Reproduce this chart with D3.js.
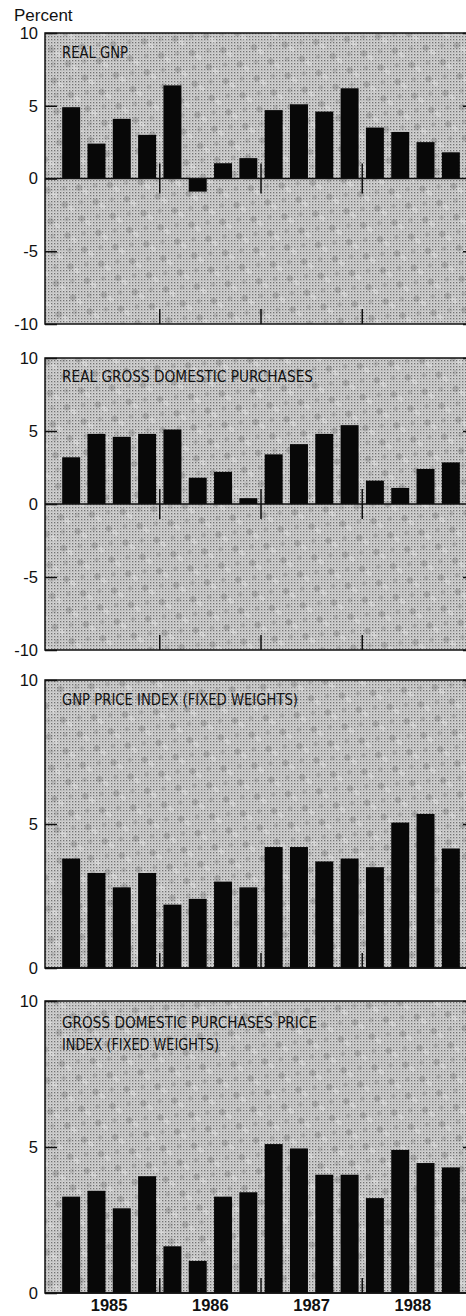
<!DOCTYPE html>
<html>
<head>
<meta charset="utf-8">
<script src="https://cdn.jsdelivr.net/npm/d3@7"></script>
<style>
  body { margin: 0; background: #fff; }
  .tick text { font-family: "Liberation Sans", Arial, sans-serif; font-size: 16.5px; fill: #111; }
  .panel-title { font-family: "Liberation Sans Narrow", "DejaVu Sans Condensed", sans-serif; font-size: 16.5px; fill: #111; }
</style>
</head>
<body>
<script>
// quarterly data, 1985 Q1 - 1988 Q4
const years = ["1985", "1986", "1987", "1988"];
const quarters = [];
years.forEach(y => [1, 2, 3, 4].forEach(q => quarters.push(y + "Q" + q)));

const realGNP = [4.9, 2.4, 4.1, 3.0, 6.4, -0.9, 1.05, 1.4, 4.7, 5.1, 4.6, 6.2, 3.5, 3.2, 2.5, 1.8];
const realGDP = [3.2, 4.8, 4.6, 4.8, 5.1, 1.8, 2.2, 0.4, 3.4, 4.1, 4.8, 5.4, 1.6, 1.1, 2.4, 2.85];
const gnpPrice = [3.8, 3.3, 2.8, 3.3, 2.2, 2.4, 3.0, 2.8, 4.2, 4.2, 3.7, 3.8, 3.5, 5.05, 5.35, 4.15];
const gdpPrice = [3.3, 3.5, 2.9, 4.0, 1.6, 1.1, 3.3, 3.45, 5.1, 4.95, 4.05, 4.05, 3.25, 4.9, 4.45, 4.3];

const titles = [
  ["REAL GNP"],
  ["REAL GROSS DOMESTIC PURCHASES"],
  ["GNP PRICE INDEX (FIXED WEIGHTS)"],
  ["GROSS DOMESTIC PURCHASES PRICE", "INDEX (FIXED WEIGHTS)"]
];
const ticksPosNeg = [-10, -5, 0, 5, 10];
const ticksPos = [0, 5, 10];

const W = 466, H = 1316;
const left = 45, right = 476;

const svg = d3.select("body").append("svg")
    .attr("width", W)
    .attr("height", H);

// halftone-ish screen: fine dot grid plus coarser mottling
const defs = svg.append("defs");
const pat = defs.append("pattern")
    .attr("id", "screen")
    .attr("width", 3).attr("height", 3)
    .attr("patternUnits", "userSpaceOnUse");
pat.append("rect").attr("width", 3).attr("height", 3).attr("fill", "#d2d2d2");
pat.append("rect").attr("x", 0).attr("y", 0).attr("width", 1.3).attr("height", 1.3).attr("fill", "#727272");
pat.append("rect").attr("x", 1.5).attr("y", 1.5).attr("width", 0.9).attr("height", 0.9).attr("fill", "#a0a0a0");

const mottle = defs.append("pattern")
    .attr("id", "mottle")
    .attr("width", 22).attr("height", 22)
    .attr("patternUnits", "userSpaceOnUse")
    .attr("patternTransform", "rotate(40)");
mottle.append("circle").attr("cx", 5).attr("cy", 5).attr("r", 3.2).attr("fill", "#555").attr("opacity", 0.25);
mottle.append("circle").attr("cx", 16).attr("cy", 15).attr("r", 2.4).attr("fill", "#666").attr("opacity", 0.2);
mottle.append("rect").attr("x", 10).attr("y", 2).attr("width", 6).attr("height", 4).attr("fill", "#fff").attr("opacity", 0.25);

const x = d3.scaleBand()
    .domain(quarters)
    .range([58.5, 463.5])
    .paddingInner(0.29)
    .paddingOuter(0.145);

const panels = [
  { data: realGNP, domain: [-10, 10], range: [324, 33], ticks: ticksPosNeg, titleY: 25, widths: [66] },
  { data: realGDP, domain: [-10, 10], range: [650, 358], ticks: ticksPosNeg, titleY: 24, widths: [251] },
  { data: gnpPrice, domain: [0, 10], range: [968, 680], ticks: ticksPos, titleY: 25, widths: [236] },
  { data: gdpPrice, domain: [0, 10], range: [1293, 1001], ticks: ticksPos, titleY: 27, widths: [255, 157] }
];

// year boundaries
const step = x.step();
const yearEdges = years.slice(1).map(yr => x(yr + "Q1") - step * 0.29 / 2);

panels.forEach((p, i) => {
  const y = d3.scaleLinear().domain(p.domain).range(p.range);
  const g = svg.append("g");
  const top = y(p.domain[1]), bottom = y(p.domain[0]), zero = y(0);

  g.append("rect")
    .attr("x", left).attr("y", top)
    .attr("width", right - left).attr("height", bottom - top)
    .attr("fill", "url(#screen)");
  g.append("rect")
    .attr("x", left).attr("y", top)
    .attr("width", right - left).attr("height", bottom - top)
    .attr("fill", "url(#mottle)");

  g.selectAll(".bar")
    .data(p.data)
    .join("rect")
    .attr("class", "bar")
    .attr("x", (d, j) => x(quarters[j]))
    .attr("width", x.bandwidth())
    .attr("y", d => y(Math.max(0, d)))
    .attr("height", d => Math.abs(y(d) - y(0)))
    .attr("fill", "#080808");

  // zero line
  g.append("line")
    .attr("x1", left).attr("x2", right)
    .attr("y1", zero).attr("y2", zero)
    .attr("stroke", "#111").attr("stroke-width", 1.5);

  // frame
  g.append("rect")
    .attr("x", left).attr("y", top)
    .attr("width", right - left).attr("height", bottom - top)
    .attr("fill", "none").attr("stroke", "#111").attr("stroke-width", 1.5);

  // year separators
  yearEdges.forEach(xe => {
    if (p.domain[0] < 0) {
      g.append("line").attr("x1", xe).attr("x2", xe)
        .attr("y1", zero - 15).attr("y2", zero + 15)
        .attr("stroke", "#111").attr("stroke-width", 1.5);
    }
    g.append("line").attr("x1", xe).attr("x2", xe)
      .attr("y1", bottom - 15).attr("y2", bottom)
      .attr("stroke", "#111").attr("stroke-width", 1.5);
  });

  // axes, ticks pointing inward
  const ax = g.append("g")
    .attr("transform", `translate(${left},0)`)
    .call(d3.axisLeft(y).tickValues(p.ticks).tickFormat(d3.format("d"))
      .tickSizeInner(-12).tickSizeOuter(0).tickPadding(7));
  ax.select(".domain").remove();
  ax.selectAll("line").attr("stroke", "#111").attr("stroke-width", 1.5);
  ax.selectAll("text").text(d => d < 0 ? "-" + Math.abs(d) : d);

  const axr = g.append("g")
    .attr("transform", `translate(${right},0)`)
    .call(d3.axisRight(y).tickValues(p.ticks.filter(t => t !== 0)).tickFormat("")
      .tickSizeInner(-13).tickSizeOuter(0));
  axr.select(".domain").remove();
  axr.selectAll("line").attr("stroke", "#111").attr("stroke-width", 1.5);

  // panel title
  const t = g.append("text")
    .attr("class", "panel-title")
    .attr("x", 62)
    .attr("y", top + p.titleY);
  titles[i].forEach((line, k) => {
    t.append("tspan")
      .attr("x", 62)
      .attr("dy", k === 0 ? 0 : 22)
      .attr("textLength", p.widths[k])
      .attr("lengthAdjust", "spacingAndGlyphs")
      .text(line);
  });
});

svg.append("text")
  .attr("x", 14).attr("y", 21)
  .attr("font-family", "Liberation Sans, Arial, sans-serif")
  .attr("font-size", 17)
  .attr("fill", "#111")
  .text("Percent");

// year labels
svg.selectAll(".year")
  .data(years)
  .join("text")
  .attr("class", "year")
  .attr("x", d => (x(d + "Q1") + x(d + "Q4") + x.bandwidth()) / 2)
  .attr("y", 1311)
  .attr("text-anchor", "middle")
  .attr("font-family", "Liberation Sans, Arial, sans-serif")
  .attr("font-weight", "bold")
  .attr("font-size", 16.5)
  .attr("fill", "#111")
  .text(d => d);
</script>
</body>
</html>
